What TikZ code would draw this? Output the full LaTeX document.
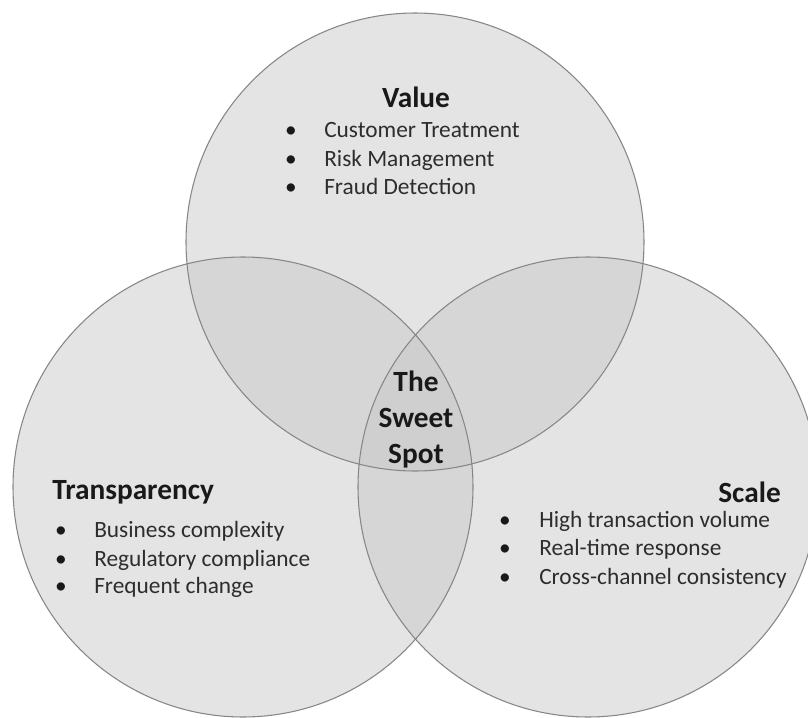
\documentclass[tikz,border=0pt]{standalone}
\usepackage{fontspec}
\setmainfont{Carlito}
\begin{document}
\begin{tikzpicture}[x=0.75pt,y=0.75pt,yscale=-1,xscale=1,
  venn/.style={draw={rgb, 255:red, 135; green, 135; blue, 135 }, line width=0.8pt},
  onefill/.style={fill={rgb, 255:red, 228; green, 228; blue, 228 }},
  twofill/.style={fill={rgb, 255:red, 214; green, 214; blue, 214 }},
  threefill/.style={fill={rgb, 255:red, 207; green, 207; blue, 207 }},
  title/.style={font=\fontsize{22}{27}\selectfont\bfseries, text={rgb, 255:red, 25; green, 25; blue, 25 }, inner sep=0pt},
  item/.style={font=\fontsize{17.5}{21}\selectfont, text={rgb, 255:red, 45; green, 45; blue, 45 }, inner sep=0pt, anchor=base west},
  bul/.style={font=\fontsize{17.5}{21}\selectfont, text={rgb, 255:red, 25; green, 25; blue, 25 }, inner sep=0pt, anchor=base}]
%set diagram left start at 0, and has height of 718
\useasboundingbox (0,0) rectangle (808,718);
\fill [white] (0,0) rectangle (808,718);

%Shape: Circle [id:dp3318205741] 
\fill [onefill] (415,242) circle [radius=229];
%Shape: Circle [id:dp7702918364] 
\fill [onefill] (243,487) circle [radius=230];
%Shape: Circle [id:dp5129047783] 
\fill [onefill] (588,487) circle [radius=230];

%Overlaps
\begin{scope}
\clip (415,242) circle [radius=229];
\fill [twofill] (243,487) circle [radius=230];
\fill [twofill] (588,487) circle [radius=230];
\end{scope}
\begin{scope}
\clip (243,487) circle [radius=230];
\fill [twofill] (588,487) circle [radius=230];
\clip (588,487) circle [radius=230];
\fill [threefill] (415,242) circle [radius=229];
\end{scope}

%Shape: Circle [id:dp3318205742] 
\draw [venn] (415,242) circle [radius=229];
%Shape: Circle [id:dp7702918365] 
\draw [venn] (243,487) circle [radius=230];
%Shape: Circle [id:dp5129047784] 
\draw [venn] (588,487) circle [radius=230];

% Text Node
\node [title] (valtitle) at (416,97) {Value};
% Text Node
\node [bul] (vb1) at (291,137) {\textbullet};
\node [item] (v1) at (324,137) {Customer Treatment};
% Text Node
\node [bul] (vb2) at (291,166) {\textbullet};
\node [item] (v2) at (324,166) {Risk Management};
% Text Node
\node [bul] (vb3) at (291,194) {\textbullet};
\node [item] (v3) at (324,194) {Fraud Detection};

% Text Node
\node [title, align=center] (sweet) at (416,420) {The\\Sweet\\Spot};

% Text Node
\node [title, anchor=west] (trtitle) at (52,492) {Transparency};
% Text Node
\node [bul] (tb1) at (61,537) {\textbullet};
\node [item] (t1) at (94,537) {Business complexity};
% Text Node
\node [bul] (tb2) at (61,566) {\textbullet};
\node [item] (t2) at (94,566) {Regulatory compliance};
% Text Node
\node [bul] (tb3) at (61,593) {\textbullet};
\node [item] (t3) at (94,593) {Frequent change};

% Text Node
\node [title, anchor=east] (sctitle) at (781,492) {Scale};
% Text Node
\node [bul] (sb1) at (505,527) {\textbullet};
\node [item] (s1) at (539,527) {High transaction volume};
% Text Node
\node [bul] (sb2) at (505,555) {\textbullet};
\node [item] (s2) at (539,555) {Real-time response};
% Text Node
\node [bul] (sb3) at (505,584) {\textbullet};
\node [item] (s3) at (539,584) {Cross-channel consistency};

\end{tikzpicture}
\end{document}
